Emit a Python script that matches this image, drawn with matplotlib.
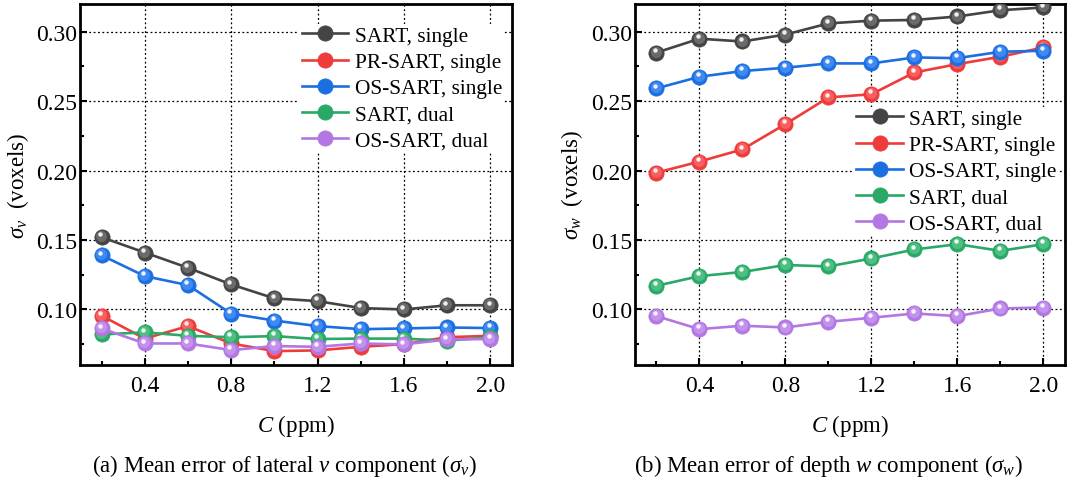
import matplotlib
matplotlib.use("Agg")
import matplotlib.pyplot as plt
import matplotlib.transforms as mtransforms
from matplotlib.ticker import MultipleLocator, FormatStrFormatter

plt.rcParams["font.family"] = ["Liberation Serif", "DejaVu Serif"]
plt.rcParams["mathtext.fontset"] = "custom"
plt.rcParams["mathtext.rm"] = "Liberation Serif"
plt.rcParams["mathtext.it"] = "Liberation Serif:italic"

# Concentration C (ppm)
conc = [0.2, 0.4, 0.6, 0.8, 1.0, 1.2, 1.4, 1.6, 1.8, 2.0]

series_names = ["SART, single", "PR-SART, single", "OS-SART, single",
                "SART, dual", "OS-SART, dual"]

# Lateral v component mean error (voxels)
sigma_v_sart_single = [0.152, 0.141, 0.130, 0.118, 0.108, 0.106, 0.101, 0.100, 0.103, 0.103]
sigma_v_prsart_single = [0.0955, 0.079, 0.088, 0.0755, 0.070, 0.0705, 0.0731, 0.075, 0.080, 0.081]
sigma_v_ossart_single = [0.139, 0.124, 0.1175, 0.097, 0.092, 0.088, 0.0858, 0.0863, 0.087, 0.0866]
sigma_v_sart_dual = [0.082, 0.0835, 0.081, 0.080, 0.0808, 0.0787, 0.079, 0.079, 0.0775, 0.080]
sigma_v_ossart_dual = [0.0863, 0.0755, 0.0755, 0.0707, 0.0736, 0.0731, 0.0755, 0.0748, 0.0784, 0.0787]

# Depth w component mean error (voxels)
sigma_w_sart_single = [0.285, 0.295, 0.293, 0.298, 0.306, 0.308, 0.3085, 0.311, 0.3155, 0.3175]
sigma_w_prsart_single = [0.1985, 0.2065, 0.2153, 0.2335, 0.2527, 0.255, 0.2707, 0.2767, 0.282, 0.2887]
sigma_w_ossart_single = [0.2592, 0.2676, 0.2717, 0.2741, 0.2772, 0.2772, 0.2815, 0.281, 0.2856, 0.2863]
sigma_w_sart_dual = [0.117, 0.124, 0.127, 0.132, 0.131, 0.1367, 0.1432, 0.147, 0.1422, 0.147]
sigma_w_ossart_dual = [0.0952, 0.0858, 0.0883, 0.087, 0.0911, 0.094, 0.0971, 0.0952, 0.1007, 0.1014]

colors = ["#444444", "#ee3b3b", "#1c6fe0", "#2aa866", "#b277e2"]
light = ["#8a8a8a", "#ff8080", "#5ea0ff", "#6cd39a", "#d4aaf5"]

TICK_FS = 17
LEG_FS = 15.3
LAB_FS = 16.5

fig = plt.figure(figsize=(10.88, 4.85), dpi=100)
ax1 = fig.add_axes([0.0735, 0.2454, 0.397, 0.7443])
ax2 = fig.add_axes([0.5836, 0.2454, 0.3952, 0.7443])


def draw(ax, data, ylabel, legend_anchor):
    handles = []
    for i, (vals, name) in enumerate(zip(data, series_names)):
        z = 3 + i * 3
        (ln,) = ax.plot(conc, vals, color=colors[i], lw=1.9, marker="o",
                        ms=11, mfc=colors[i], mec=colors[i], mew=0.5,
                        zorder=z, label=name)
        glow = mtransforms.offset_copy(ax.transData, fig=fig, x=-0.6, y=0.7, units="points")
        ax.plot(conc, vals, ls="none", marker="o", ms=8, mfc=light[i],
                mec="none", alpha=0.55, transform=glow, zorder=z + 1)
        spot = mtransforms.offset_copy(ax.transData, fig=fig, x=-1.2, y=2.0, units="points")
        ax.plot(conc, vals, ls="none", marker="o", ms=3.2, mfc="white",
                mec="none", alpha=0.9, transform=spot, zorder=z + 2)
        handles.append(ln)

    ax.set_xlim(0.1, 2.1)
    ax.set_ylim(0.06, 0.32)
    ax.xaxis.set_major_locator(MultipleLocator(0.4))
    ax.xaxis.set_minor_locator(MultipleLocator(0.2))
    ax.yaxis.set_major_locator(MultipleLocator(0.05))
    ax.yaxis.set_minor_locator(MultipleLocator(0.025))
    ax.xaxis.set_major_formatter(FormatStrFormatter("%.1f"))
    ax.yaxis.set_major_formatter(FormatStrFormatter("%.2f"))
    ax.tick_params(which="both", direction="in", labelsize=TICK_FS, width=1.5)
    ax.tick_params(which="major", length=5)
    ax.tick_params(which="minor", length=3)
    ax.tick_params(axis="x", pad=7)
    ax.tick_params(axis="y", pad=2)
    ax.grid(True, which="major", color="black", ls=(0, (1.5, 2.0)), lw=0.9)
    ax.set_axisbelow(True)
    for s in ax.spines.values():
        s.set_linewidth(2.0)
    ax.set_ylabel(ylabel, fontsize=LAB_FS, labelpad=4)
    ax.set_xlabel(r"$C$ (ppm)", fontsize=LAB_FS, labelpad=12)
    leg = ax.legend(handles=handles, loc="upper left", bbox_to_anchor=legend_anchor,
                    frameon=True, facecolor="white", edgecolor="none", framealpha=1,
                    fancybox=False, fontsize=LEG_FS, borderpad=0.1, borderaxespad=0,
                    handlelength=2.2, handletextpad=0.3, labelspacing=0.3)
    # white box hides the dotted grid but stays under the frame and the data
    leg.set_zorder(2.4)


draw(ax1, [sigma_v_sart_single, sigma_v_prsart_single, sigma_v_ossart_single,
           sigma_v_sart_dual, sigma_v_ossart_dual],
     r"$\sigma_v$  (voxels)", (0.508, 0.945))
draw(ax2, [sigma_w_sart_single, sigma_w_prsart_single, sigma_w_ossart_single,
           sigma_w_sart_dual, sigma_w_ossart_dual],
     r"$\sigma_w$  (voxels)", (0.51, 0.715))

fig.text(0.0735 + 0.397 / 2 - 0.01, 0.04,
         r"(a) Mean error of lateral $v$ component ($\sigma_v$)",
         ha="center", va="center", fontsize=LAB_FS)
fig.text(0.5836 + 0.3952 / 2 - 0.02, 0.04,
         r"(b) Mean error of depth $w$ component ($\sigma_w$)",
         ha="center", va="center", fontsize=LAB_FS)

fig.savefig("out.png", dpi=100)
